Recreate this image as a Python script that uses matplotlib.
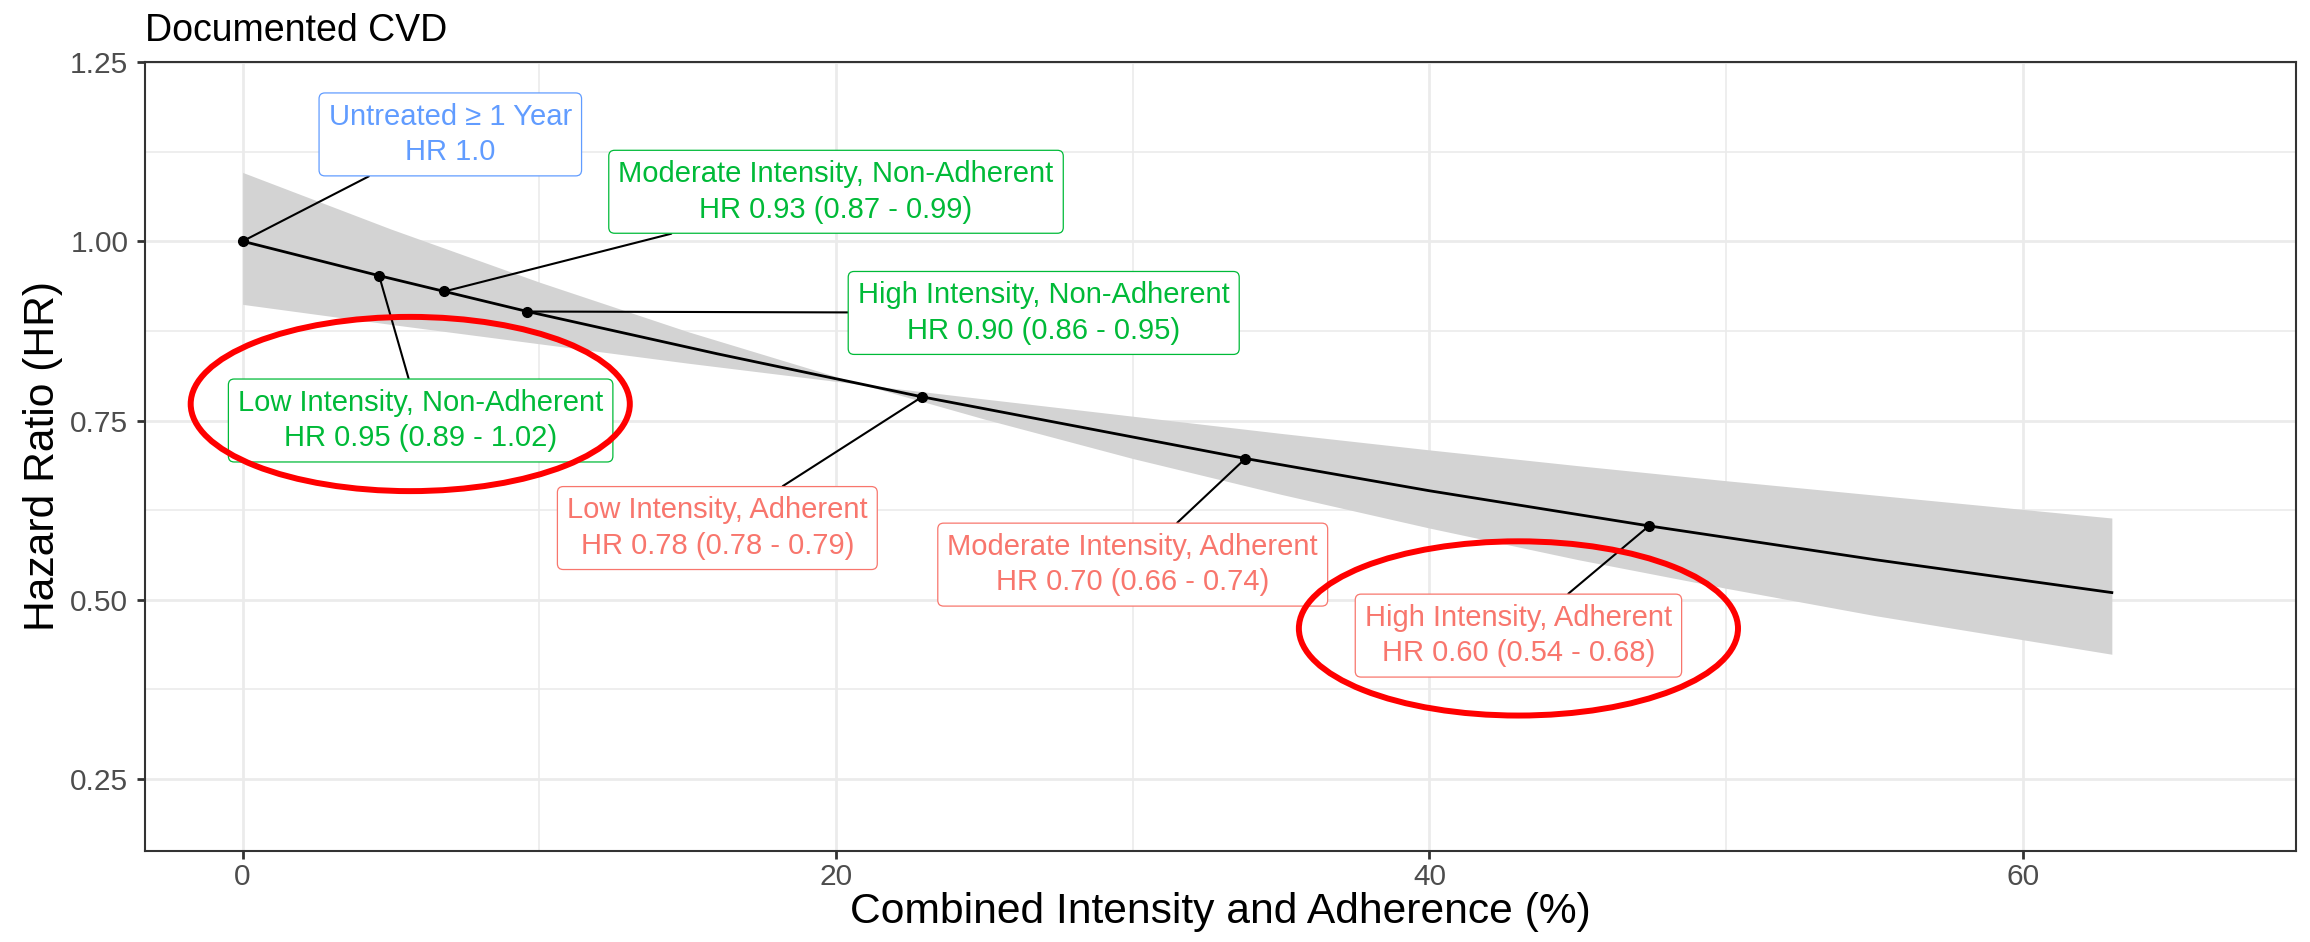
import matplotlib
matplotlib.use("Agg")
import matplotlib.pyplot as plt
from matplotlib.patches import Ellipse
from matplotlib.ticker import MultipleLocator

plt.rcParams['font.family'] = ['Liberation Sans', 'DejaVu Sans']

# --- data ---
groups = [
    "Untreated \u2265 1 Year",
    "Low Intensity, Non-Adherent",
    "Moderate Intensity, Non-Adherent",
    "High Intensity, Non-Adherent",
    "Low Intensity, Adherent",
    "Moderate Intensity, Adherent",
    "High Intensity, Adherent",
]
hr_text = [
    "HR 1.0",
    "HR 0.95 (0.89 - 1.02)",
    "HR 0.93 (0.87 - 0.99)",
    "HR 0.90 (0.86 - 0.95)",
    "HR 0.78 (0.78 - 0.79)",
    "HR 0.70 (0.66 - 0.74)",
    "HR 0.60 (0.54 - 0.68)",
]
status = ["untreated", "non-adherent", "non-adherent", "non-adherent",
          "adherent", "adherent", "adherent"]
point_x = [0, 4.6, 6.8, 9.6, 22.9, 33.8, 47.4]
point_hr = [1.0, 0.952, 0.930, 0.902, 0.783, 0.697, 0.603]

# fitted curve
curve_x = [0, 4.6, 6.8, 9.6, 16, 22.9, 33.8, 40, 47.4, 55, 63]
curve_hr = [1.0, 0.952, 0.930, 0.902, 0.843, 0.783, 0.697, 0.652, 0.603, 0.556, 0.510]

# confidence band
band_x = [0, 5, 10, 15, 20.9, 25, 30, 35, 40, 45, 50, 55, 63]
band_lo = [0.912, 0.884, 0.857, 0.830, 0.800, 0.752, 0.697, 0.647, 0.600, 0.556, 0.516, 0.478, 0.424]
band_hi = [1.096, 1.017, 0.943, 0.874, 0.800, 0.780, 0.756, 0.732, 0.709, 0.687, 0.666, 0.646, 0.614]

# --- layout / style ---
status_colors = {"untreated": "#619CFF", "non-adherent": "#00BA38", "adherent": "#F8766D"}
label_pos = [(7.0, 1.149), (6.0, 0.750), (20.0, 1.069), (27.0, 0.900),
             (16.0, 0.600), (30.0, 0.549), (43.0, 0.450)]
highlights = [(5.65, 0.773), (43.0, 0.460)]

W, H, DPI = 2310, 942, 100
fig = plt.figure(figsize=(W / DPI, H / DPI), dpi=DPI)
left, right, top, bottom = 145, 2295.5, 62, 850.7
ax = fig.add_axes([left / W, 1 - bottom / H, (right - left) / W, (bottom - top) / H])

ax.fill_between(band_x, band_lo, band_hi, color="#D3D3D3", lw=0, zorder=2)
ax.plot(curve_x, curve_hr, color="black", lw=2.0, zorder=3)
ax.plot(point_x, point_hr, "o", color="black", ms=7, zorder=4)

for i, name in enumerate(groups):
    col = status_colors[status[i]]
    ax.annotate(
        name + "\n" + hr_text[i],
        xy=(point_x[i], point_hr[i]), xytext=label_pos[i],
        ha="center", va="center", fontsize=21, color=col, linespacing=1.35,
        bbox=dict(boxstyle="round,pad=0.33,rounding_size=0.2", fc="white",
                  ec=col, lw=0.9),
        arrowprops=dict(arrowstyle="-", color="black", lw=1.5,
                        shrinkA=0, shrinkB=0),
        zorder=5,
    )

for cx, cy in highlights:
    ax.add_patch(Ellipse((cx, cy), 14.8, 0.243, fill=False, ec="#FF0000",
                         lw=4.3, zorder=6))

ax.set_xlim(-3.29, 69.19)
ax.set_ylim(0.15, 1.25)
ax.xaxis.set_major_locator(MultipleLocator(20))
ax.xaxis.set_minor_locator(MultipleLocator(10))
ax.set_yticks([0.25, 0.50, 0.75, 1.00, 1.25])
ax.set_yticklabels(["0.25", "0.50", "0.75", "1.00", "1.25"])
ax.yaxis.set_minor_locator(MultipleLocator(0.125))

ax.set_axisbelow(True)
ax.grid(which="major", color="#EBEBEB", lw=2.0)
ax.grid(which="minor", color="#EBEBEB", lw=1.2)
ax.tick_params(which="major", length=6, width=2, color="#333333",
               labelsize=21.5, labelcolor="#4D4D4D")
ax.tick_params(axis="y", pad=6)
ax.tick_params(axis="x", pad=2.5)
ax.tick_params(which="minor", length=0)
for sp in ax.spines.values():
    sp.set_color("#333333")
    sp.set_linewidth(1.5)

ax.set_xlabel("Combined Intensity and Adherence (%)", fontsize=30.7, labelpad=1)
ax.set_ylabel("Hazard Ratio (HR)", fontsize=30.7, labelpad=5)
ax.set_title("Documented CVD", loc="left", fontsize=27, pad=15)

fig.savefig("out.png", dpi=DPI)
